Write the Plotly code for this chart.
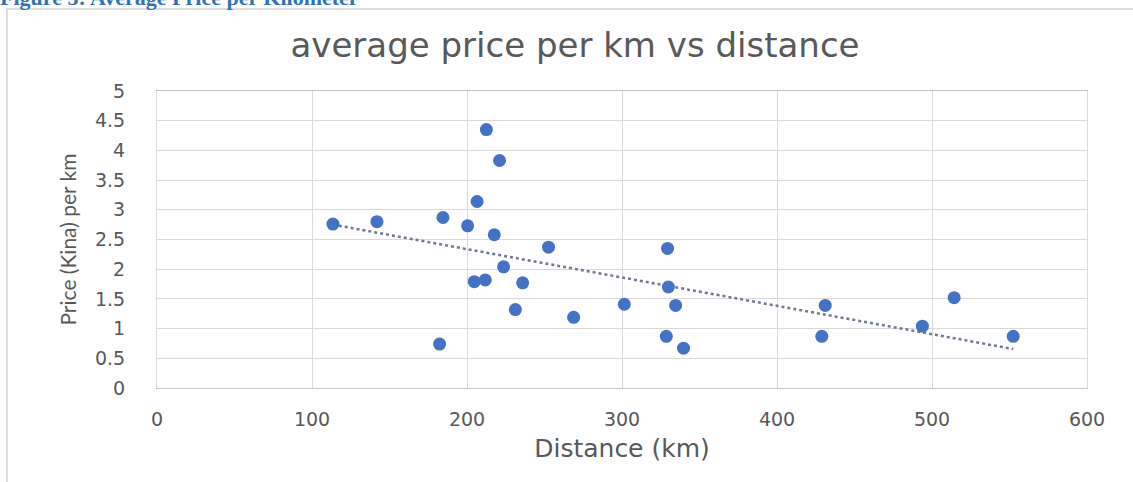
import numpy as np
import plotly.graph_objects as go

# Data
distance_km = [113.5, 141.9, 184.5, 206.5, 212.5, 221.0, 200.4, 217.6, 252.6, 329.4,
               223.6, 204.7, 211.8, 235.9, 231.2, 268.8, 301.5, 329.9, 334.6, 328.6,
               339.7, 182.3, 431.1, 428.9, 493.8, 514.3, 552.4]
price_per_km = [2.76, 2.80, 2.87, 3.14, 4.35, 3.83, 2.73, 2.58, 2.37, 2.35,
                2.04, 1.79, 1.82, 1.77, 1.32, 1.19, 1.41, 1.70, 1.39, 0.87,
                0.67, 0.74, 1.39, 0.87, 1.04, 1.52, 0.87]
x_ticks = [0, 100, 200, 300, 400, 500, 600]
y_ticks = [0, 0.5, 1, 1.5, 2, 2.5, 3, 3.5, 4, 4.5, 5]
y_tick_labels = ["0", "0.5", "1", "1.5", "2", "2.5", "3", "3.5", "4", "4.5", "5"]

# Linear trendline (least squares)
slope, intercept = np.polyfit(distance_km, price_per_km, 1)
trend_x = [min(distance_km), max(distance_km)]
trend_y = [slope * v + intercept for v in trend_x]

W, H = 1133, 482
ML, MR, MT, MB = 157, 46, 91, 94
PW = W - ML - MR
PH = H - MT - MB

def px_to_paper_x(p):
    return (p - ML) / PW

def px_to_paper_y(p):
    return (H - MB - p) / PH

TEXT = "#595959"

fig = go.Figure()
fig.add_trace(go.Scatter(
    x=trend_x, y=trend_y, mode="lines",
    line=dict(color="#6e7b91", width=2.5, dash="dot"),
    showlegend=False, hoverinfo="skip",
))
fig.add_trace(go.Scatter(
    x=distance_km, y=price_per_km, mode="markers",
    marker=dict(color="#4472C4", size=13, line=dict(width=0)),
    showlegend=False,
))

fig.update_layout(
    width=W, height=H,
    margin=dict(l=ML, r=MR, t=MT, b=MB, pad=0),
    paper_bgcolor="white", plot_bgcolor="white",
    title=dict(
        text="average price per km vs distance",
        x=575 / W, xanchor="center", xref="container",
        y=1 - 45 / H, yanchor="middle", yref="container",
        font=dict(family="DejaVu Sans", size=34, color=TEXT),
    ),
    xaxis=dict(
        range=[0, 600], tickvals=x_ticks, ticktext=[str(v) for v in x_ticks],
        showgrid=True, gridcolor="#d9d9d9", gridwidth=1,
        zeroline=False, showline=True, linecolor="#c4c4c4", linewidth=1, mirror=True,
        ticks="", ticklabelstandoff=14,
        tickfont=dict(family="DejaVu Sans", size=19, color=TEXT),
        title=dict(text="Distance (km)", standoff=10,
                   font=dict(family="DejaVu Sans", size=25, color=TEXT)),
        fixedrange=True,
    ),
    yaxis=dict(
        range=[0, 5], tickvals=y_ticks, ticktext=y_tick_labels,
        showgrid=True, gridcolor="#d9d9d9", gridwidth=1,
        zeroline=False, showline=True, linecolor="#d9d9d9", linewidth=1, mirror=True,
        ticks="", ticklabelstandoff=27,
        tickfont=dict(family="DejaVu Sans", size=19, color=TEXT),
        title=dict(text="Price (Kina) per km", standoff=12,
                   font=dict(family="Lato, sans-serif", size=21, color=TEXT)),
        fixedrange=True,
    ),
    shapes=[
        dict(type="rect", xref="paper", yref="paper", layer="below",
             x0=px_to_paper_x(7), x1=px_to_paper_x(W + 20),
             y0=px_to_paper_y(H + 20), y1=px_to_paper_y(9),
             line=dict(color="#d4d4d4", width=1.5), fillcolor="rgba(0,0,0,0)"),
    ],
    annotations=[
        dict(text="<b>Figure 5: Average Price per Kilometer</b>",
             xref="paper", yref="paper",
             x=px_to_paper_x(-2), xanchor="left",
             y=px_to_paper_y(-3), yanchor="middle",
             showarrow=False,
             font=dict(family="Liberation Serif", size=22, color="#2E74B5")),
    ],
)

fig.write_html("out.html")
